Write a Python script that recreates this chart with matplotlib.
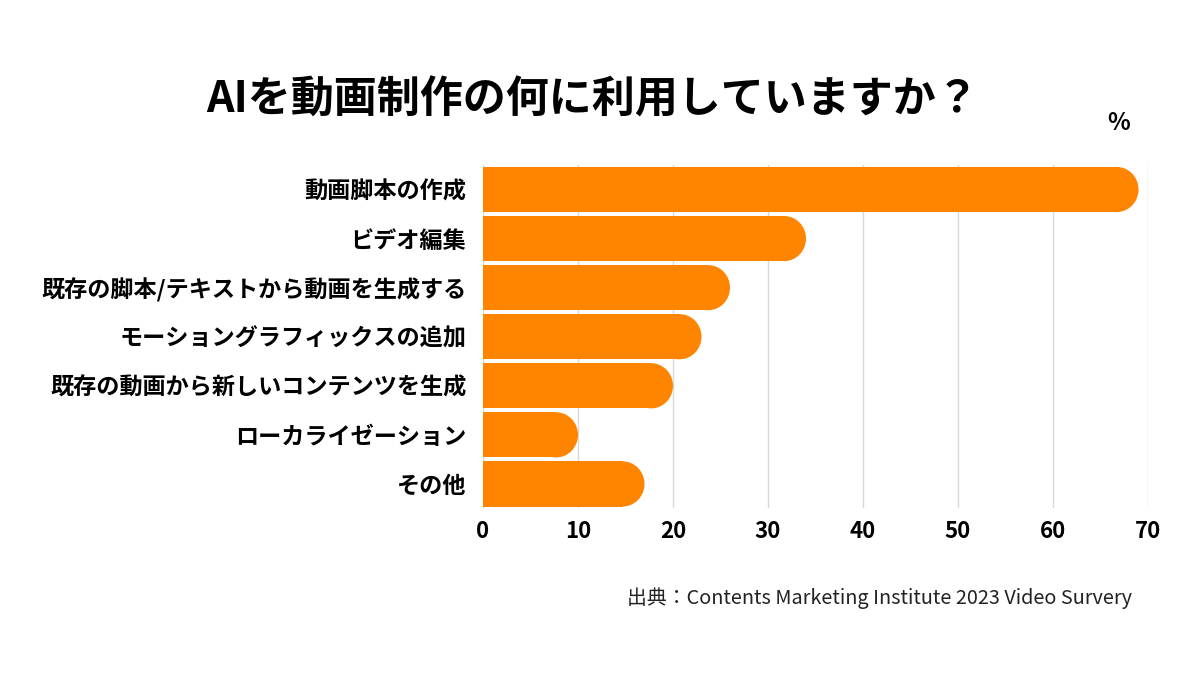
import matplotlib
matplotlib.use("Agg")
import matplotlib.pyplot as plt
from matplotlib.patches import Ellipse

plt.rcParams['font.family'] = ['Noto Sans CJK JP', 'DejaVu Sans']

# data
categories = ['動画脚本の作成', 'ビデオ編集', '既存の脚本/テキストから動画を生成する',
              'モーショングラフィックスの追加', '既存の動画から新しいコンテンツを生成',
              'ローカライゼーション', 'その他']
values = [69, 34, 26, 23, 20, 10, 17]
ticks = [0, 10, 20, 30, 40, 50, 60, 70]

orange = '#ff8500'
bar_h = 0.92
cap = 2.3  # horizontal radius of the round end, in data units

fig = plt.figure(figsize=(12, 6.75), dpi=100)
ax = fig.add_axes([0.4025, 0.2467, 0.5542, 0.5089])

ys = list(range(len(values)))
ax.barh(ys, [v - cap for v in values], height=bar_h, color=orange, zorder=2)
for y, v in zip(ys, values):
    ax.add_patch(Ellipse((v - cap, y), 2 * cap, bar_h, color=orange, zorder=2, lw=0))

ax.set_xlim(0, 70)
ax.set_ylim(len(values) - 0.5, -0.5)
ax.set_xticks(ticks)
ax.set_xticklabels([str(t) for t in ticks], fontsize=16, fontweight='bold')
ax.set_yticks(ys)
ax.set_yticklabels(categories, fontsize=16.7, fontweight='bold')
ax.tick_params(axis='both', length=0)
ax.tick_params(axis='y', pad=12)
ax.tick_params(axis='x', pad=8)
ax.xaxis.grid(True, color='#d9d9d9', lw=1, zorder=0)
ax.set_axisbelow(True)
for s in ax.spines.values():
    s.set_visible(False)

fig.text(0.494, 0.852, 'AIを動画制作の何に利用していますか？', ha='center', va='center',
         fontsize=31, fontweight='bold')
fig.text(0.932, 0.818, '%', ha='center', va='center', fontsize=17, fontweight='bold')
fig.text(0.943, 0.114, '出典：Contents Marketing Institute 2023 Video Survery',
         ha='right', va='center', fontsize=14.3, color='#222222')

fig.savefig('out.png', dpi=100, facecolor='white')
